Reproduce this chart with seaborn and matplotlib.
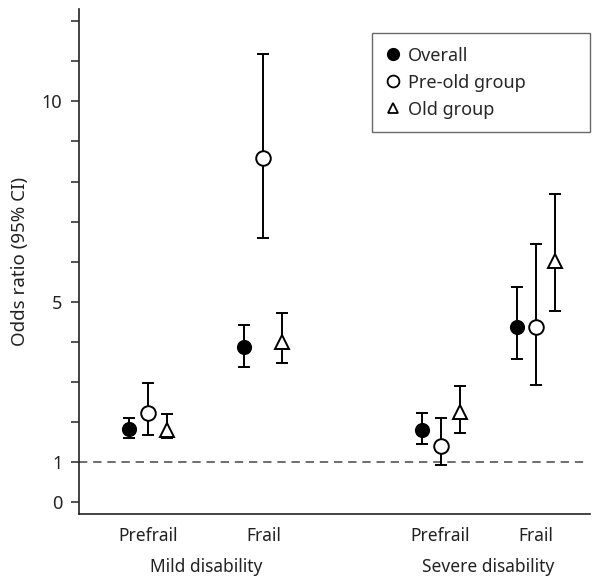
import numpy as np
import pandas as pd
import matplotlib
matplotlib.use("Agg")
import matplotlib.pyplot as plt
from matplotlib.lines import Line2D
import seaborn as sns

# Data
conditions = ["Prefrail", "Frail", "Prefrail", "Frail"]
disability = ["Mild disability", "Mild disability", "Severe disability", "Severe disability"]
groups = ["Overall", "Pre-old group", "Old group"]

overall_or = [1.82, 3.86, 1.79, 4.36]
overall_lo = [1.59, 3.37, 1.44, 3.57]
overall_hi = [2.11, 4.43, 2.22, 5.36]

preold_or = [2.23, 8.58, 1.40, 4.36]
preold_lo = [1.68, 6.59, 0.93, 2.93]
preold_hi = [2.96, 11.19, 2.11, 6.43]

old_or = [1.80, 4.00, 2.26, 6.01]
old_lo = [1.59, 3.48, 1.73, 4.76]
old_hi = [2.19, 4.71, 2.90, 7.69]

y_ticks = list(range(0, 13))
y_labels = ["0", "1", "", "", "", "5", "", "", "", "", "10", "", ""]

# layout
group_x = [1.0, 2.0, 3.54, 4.37]
offset = {"Overall": -0.165, "Pre-old group": 0.0, "Old group": 0.165}
style = {
    "Overall": dict(marker="o", facecolor="black", size=9.5),
    "Pre-old group": dict(marker="o", facecolor="white", size=10.5),
    "Old group": dict(marker="^", facecolor="white", size=9.5),
}

rows = []
for g, ors, lo, hi in [("Overall", overall_or, overall_lo, overall_hi),
                       ("Pre-old group", preold_or, preold_lo, preold_hi),
                       ("Old group", old_or, old_lo, old_hi)]:
    for i in range(len(conditions)):
        rows.append({"group": g, "condition": conditions[i], "disability": disability[i],
                     "x": group_x[i] + offset[g], "OR": ors[i], "lo": lo[i], "hi": hi[i]})
df = pd.DataFrame(rows)

sns.set_style("ticks")
plt.rcParams["font.family"] = ["Noto Sans", "DejaVu Sans"]
fs = 12.5
txt = "#222222"

fig = plt.figure(figsize=(5.95, 5.77), dpi=100)
ax = fig.add_axes([0.133, 0.109, 0.859, 0.875])

ax.axhline(1, xmin=0, xmax=0.99, color="#555555", linestyle=(0, (5, 3.5)), linewidth=1.2, zorder=1)

for g in groups:
    d = df[df["group"] == g]
    st = style[g]
    ax.errorbar(d["x"], d["OR"], yerr=[d["OR"] - d["lo"], d["hi"] - d["OR"]],
                fmt="none", ecolor="black", elinewidth=1.4, capsize=4.5, capthick=1.4, zorder=2)
    ax.plot(d["x"], d["OR"], linestyle="none", marker=st["marker"], markersize=st["size"],
            markerfacecolor=st["facecolor"], markeredgecolor="black", markeredgewidth=1.4, zorder=3)

ax.set_xlim(0.4, 4.84)
ax.set_ylim(-0.3, 12.3)
ax.set_yticks(y_ticks)
ax.set_yticklabels(y_labels, fontsize=13, color=txt)
ax.set_xticks(group_x)
ax.set_xticklabels(conditions, fontsize=fs, color=txt)
ax.tick_params(axis="x", length=0, pad=9)
ax.tick_params(axis="y", length=6, width=1.1, pad=6)
ax.set_ylabel("Odds ratio (95% CI)", fontsize=13.5, color=txt, labelpad=9)

for name in ["Mild disability", "Severe disability"]:
    xs = [group_x[i] for i in range(len(disability)) if disability[i] == name]
    ax.text(np.mean(xs), -0.086, name, transform=ax.get_xaxis_transform(),
            ha="center", va="top", fontsize=fs, color=txt)

for side in ["top", "right"]:
    ax.spines[side].set_visible(False)
for side in ["left", "bottom"]:
    ax.spines[side].set_linewidth(1.2)
    ax.spines[side].set_color("#222222")

handles = [
    Line2D([], [], linestyle="none", marker="o", markersize=8.5, markerfacecolor="black",
           markeredgecolor="black", label="Overall"),
    Line2D([], [], linestyle="none", marker="o", markersize=8.5, markerfacecolor="white",
           markeredgecolor="black", markeredgewidth=1.3, label="Pre-old group"),
    Line2D([], [], linestyle="none", marker="^", markersize=7.5, markerfacecolor="white",
           markeredgecolor="black", markeredgewidth=1.3, label="Old group"),
]
leg = ax.legend(handles=handles, loc="upper left", bbox_to_anchor=(0.573, 0.953, 0.427, 0.0),
                mode="expand", frameon=True, fancybox=False, fontsize=13, handlelength=0.8,
                handletextpad=0.45, borderpad=0.75, labelspacing=0.5, borderaxespad=0)
leg.get_frame().set_edgecolor("#444444")
leg.get_frame().set_linewidth(1.0)

fig.savefig("out.png", dpi=100)
